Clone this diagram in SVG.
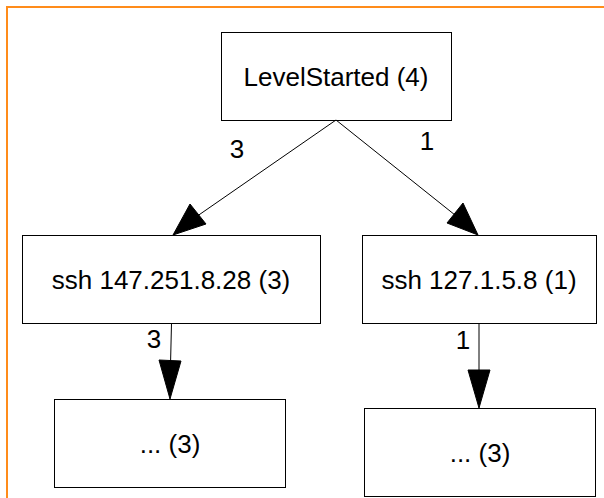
<svg xmlns="http://www.w3.org/2000/svg" width="604" height="498" viewBox="0 0 604 498">
<defs>
<style>
.node rect{fill:#fff;stroke:#000;stroke-width:1}
.node text,.lbl{font-family:"Liberation Sans",Arial,sans-serif;font-size:26px;fill:#000;text-anchor:middle}
.edge line{stroke:#000;stroke-width:1}
.edge polygon{fill:#000;stroke:#000}
</style>
</defs>
<rect x="7" y="7" width="620" height="520" fill="#fff" stroke="#ff8c1a" stroke-width="2"/>
<g id="n0" class="node"><rect x="221.5" y="32.5" width="230" height="88"/><text x="336" y="86">LevelStarted (4)</text></g>
<g id="n1" class="node"><rect x="22.5" y="235.5" width="298" height="88"/><text x="171" y="289">ssh 147.251.8.28 (3)</text></g>
<g id="n2" class="node"><rect x="362.5" y="235.5" width="234" height="88"/><text x="479" y="289">ssh 127.1.5.8 (1)</text></g>
<g id="n3" class="node"><rect x="54.5" y="399.5" width="231" height="88"/><text x="170" y="453">... (3)</text></g>
<g id="n4" class="node"><rect x="364.5" y="408.5" width="231" height="88"/><text x="480" y="462">... (3)</text></g>
<g id="edges" class="edge">
<line x1="336" y1="120" x2="193" y2="219"/>
<polygon points="173,235 190,204 206,224"/>
<line x1="336" y1="120" x2="460" y2="219"/>
<polygon points="478,235 447,223 463,203"/>
<line x1="171.5" y1="323" x2="170.5" y2="365"/>
<polygon points="170,399 159,360 181,361"/>
<line x1="479" y1="323" x2="479" y2="372"/>
<polygon points="479,408 468,370 490,370"/>
<text class="lbl" x="237" y="158">3</text>
<text class="lbl" x="427" y="150">1</text>
<text class="lbl" x="154" y="348">3</text>
<text class="lbl" x="463" y="349">1</text>
</g>
</svg>
